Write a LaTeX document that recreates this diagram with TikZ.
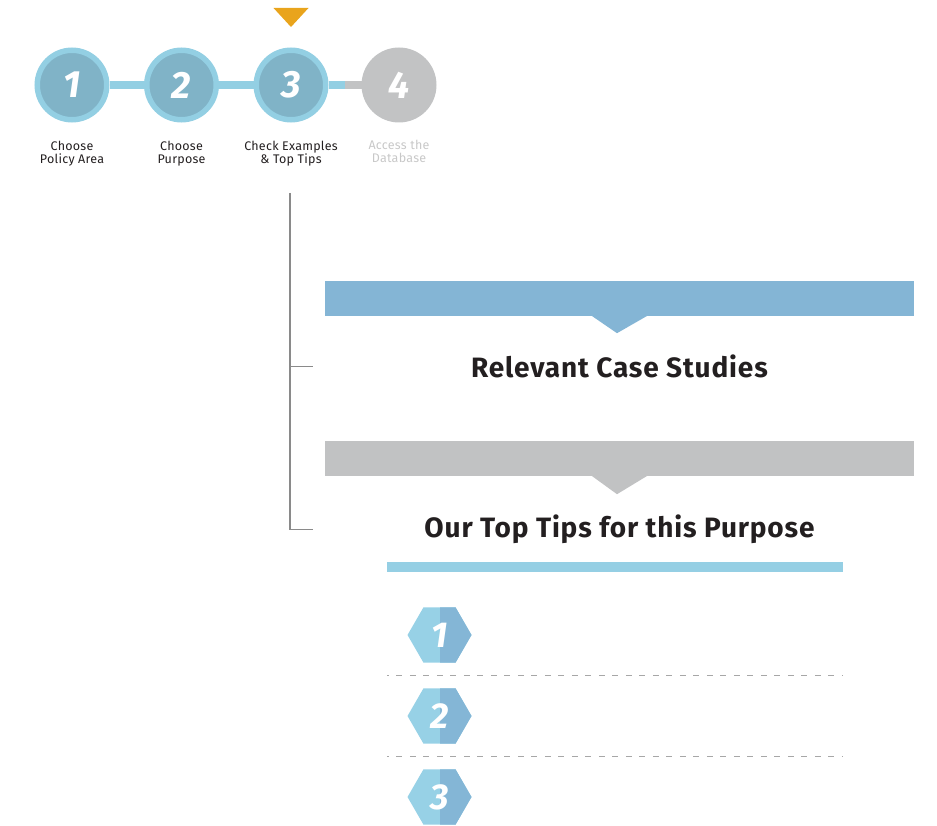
\documentclass[tikz,border=0pt]{standalone}
\usepackage{fontspec}
\setmainfont{Fira Sans}
\usetikzlibrary{positioning}
\usetikzlibrary{calc}
\usetikzlibrary{shapes.geometric}
\pgfdeclarelayer{below}
\pgfsetlayers{below,main}
\definecolor{ringblue}{HTML}{93CFE3}
\definecolor{stageblue}{HTML}{80B3C7}
\definecolor{stagegrey}{HTML}{C2C3C4}
\definecolor{markorange}{HTML}{E9A41C}
\definecolor{barblue}{HTML}{84B5D5}
\definecolor{bargrey}{HTML}{C1C2C3}
\definecolor{tipbarblue}{HTML}{95CFE4}
\definecolor{hexlight}{HTML}{97D1E6}
\definecolor{hexdark}{HTML}{84B6D6}
\definecolor{treegrey}{HTML}{8A8A8A}
\definecolor{inkdark}{HTML}{231F20}
\definecolor{inkmuted}{HTML}{C8C8C8}
\tikzset{
	every node/.style={align=center},
	%
	stage disc/.style={circle, draw=ringblue, fill=stageblue, line width=5.5pt,
		minimum size=69.5pt, inner sep=0pt, text=white,
		font=\fontsize{38}{40}\selectfont\bfseries\itshape},
	stage label/.style={inner sep=0pt, text=inkdark,
		font=\fontsize{12.5}{13}\selectfont\addfontfeatures{LetterSpace=2}},
	stage link/.style={line width=8pt, ringblue},
	banner/.style={inner sep=0pt, minimum width=589pt, minimum height=35pt},
	heading/.style={inner sep=0pt, text=inkdark,
		font=\fontsize{28}{30}\selectfont\bfseries\addfontfeatures{LetterSpace=3}},
	tip hex/.style={regular polygon, regular polygon sides=6, minimum size=64pt,
		inner sep=0pt, fill=hexlight, text=white,
		font=\fontsize{36}{38}\selectfont\bfseries\itshape,
		path picture={\fill [hexdark] (path picture bounding box.north)
			rectangle (path picture bounding box.south east);}},
	divider/.style={treegrey!75, line width=1.5pt, dash pattern=on 6pt off 7.5pt,
		dash phase=4pt},
	tree/.style={treegrey, line width=1.2pt},
}

\begin{document}
\begin{tikzpicture}[x=1pt, y=1pt]
	\useasboundingbox (0,0) rectangle (937,-826);
	% progress steps
	\node (step1) [stage disc] at (72,-85) {1};
	\node (step2) [stage disc, right=109.5pt of step1.center, anchor=center] {2};
	\node (step3) [stage disc, right=109.5pt of step2.center, anchor=center] {3};
	\node (step4) [stage disc, draw=none, fill=stagegrey, line width=0pt,
		minimum size=75pt, right=108pt of step3.center, anchor=center] {4};
	\coordinate (link-split) at ($(step3)!0.5!(step4)$);
	\begin{pgfonlayer}{below}
		\draw [stage link] (step1) -- (step2);
		\draw [stage link] (step2) -- (step3) -- (link-split);
		\draw [stage link, stagegrey] (link-split) -- (step4);
	\end{pgfonlayer}
	\node (label1) [stage label, below=18pt of step1] {Choose\\Policy Area};
	\node (label2) [stage label, below=18pt of step2] {Choose\\Purpose};
	\node (label3) [stage label, below=18pt of step3] {Check Examples\\\& Top Tips};
	\node (label4) [stage label, text=inkmuted, below=17pt of step4]
		{Access the\\Database};
	\fill [markorange] ($(step3.center)+(-17.5,77)$) -- ++(35,0)
		-- ($(step3.center)+(0,58)$) -- cycle;
	%
	\node (cases-bar) [banner, fill=barblue] at (619.5,-298.5) {};
	\fill [barblue] ($(cases-bar.south)+(-28,0.5)$) -- ++(56,0)
		-- ($(cases-bar.south)+(-2.5,-17)$) -- cycle;
	\node (cases-title) [heading, below=50pt of cases-bar.south, anchor=center]
		{Relevant Case Studies};
	\node (tips-bar) [banner, fill=bargrey, below=160pt of cases-bar.center,
		anchor=center] {};
	\fill [bargrey] ($(tips-bar.south)+(-28,0.5)$) -- ++(56,0)
		-- ($(tips-bar.south)+(-2.5,-18)$) -- cycle;
	\node (tips-title) [heading, below=53pt of tips-bar.south, anchor=center]
		{Our Top Tips for this Purpose};
	\node (tip-rule) [inner sep=0pt, fill=tipbarblue, minimum width=456pt,
		minimum height=10pt, below=38pt of tips-title.center, anchor=center,
		xshift=-4.5pt] {};
	%
	\coordinate (tree-top) at (290,-193);
	\draw [tree] (tree-top) |- ($(tips-title -| cases-bar.west)+(-12,0)$);
	\draw [tree] (tree-top |- cases-title) -- ++(23,0);
	%
	\node (hex1) [tip hex] at (439.5,-635) {1};
	\node (hex2) [tip hex, below=81pt of hex1.center, anchor=center] {2};
	\node (hex3) [tip hex, below=81pt of hex2.center, anchor=center] {3};
	\coordinate (gap1) at ($(hex1)!0.5!(hex2)$);
	\coordinate (gap2) at ($(hex2)!0.5!(hex3)$);
	\draw [divider] (gap1 -| tip-rule.west) -- (gap1 -| tip-rule.east);
	\draw [divider] (gap2 -| tip-rule.west) -- (gap2 -| tip-rule.east);
\end{tikzpicture}
\end{document}
